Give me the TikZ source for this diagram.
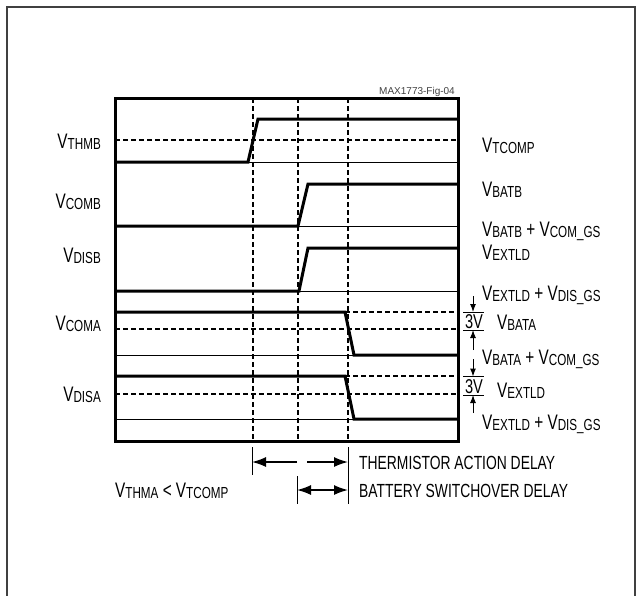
\documentclass[tikz,border=0pt]{standalone}
\usepackage{fontspec}
\setmainfont{Liberation Sans}[FakeStretch=0.73]
\newfontfamily\figfont{Liberation Sans}
\usetikzlibrary{arrows.meta,positioning}
\newcommand{\vsig}[1]{V\raisebox{-1.5pt}{\fontsize{16}{16}\selectfont #1}}

\begin{document}
\begin{tikzpicture}[x=1pt,y=-1pt,
  signal/.style={line width=3pt},
  level/.style={line width=1pt},
  guide/.style={line width=1.2pt,dash pattern=on 5pt off 3pt},
  vlabel/.style={inner sep=0pt,font=\fontsize{21}{21}\selectfont},
  note/.style={inner sep=0pt,font=\fontsize{19}{19}\selectfont},
  span/.style={line width=1.5pt,-{Latex[length=14pt,width=10pt]}},
  gap/.style={line width=1pt,-{Latex[length=8pt,width=6pt]}}]
  \useasboundingbox (0,0) rectangle (642,595);
  \draw[line width=1.5pt,black!75] (7,600) -- (7,7) -- (635,7) -- (635,600);
  \foreach \t in {253,298,348} \draw[guide] (\t,98) -- (\t,441);
  \foreach \y in {140,329,394} \draw[guide] (115,\y) -- (458,\y);
  \draw[guide] (345,312) -- (458,312);
  \draw[guide] (345,376) -- (458,376);
  \draw[level] (248,162) -- (458,162);
  \draw[level] (298,226) -- (458,226);
  \draw[level] (299,291) -- (458,291);
  \draw[level] (115,355) -- (354,355);
  \draw[level] (115,419) -- (354,419);
  \draw[signal] (115,162) -- (248,162) -- (258,119) -- (458,119);
  \draw[signal] (115,226) -- (298,226) -- (308,184) -- (458,184);
  \draw[signal] (115,291) -- (299,291) -- (308,248) -- (458,248);
  \draw[signal] (115,312) -- (345,312) -- (354,355) -- (458,355);
  \draw[signal] (115,376) -- (345,376) -- (354,419) -- (458,419);
  \draw[line width=3pt] (115,98) rectangle (458,441);
  \node[anchor=base east,inner sep=0pt,text=black!75,font=\figfont\fontsize{10}{10}\selectfont] (fig) at (455,94) {MAX1773-Fig-04};
  \node[vlabel,anchor=base east] (thmb) at (101,148) {\vsig{THMB}};
  \node[vlabel,anchor=base east] (comb) at (101,208) {\vsig{COMB}};
  \node[vlabel,anchor=base east] (disb) at (101,262) {\vsig{DISB}};
  \node[vlabel,anchor=base east] (coma) at (101,330) {\vsig{COMA}};
  \node[vlabel,anchor=base east] (disa) at (101,401) {\vsig{DISA}};
  \node[vlabel,anchor=base west] (tcomp) at (482,152) {\vsig{TCOMP}};
  \node[vlabel,anchor=base west] (batb) at (482,196) {\vsig{BATB}};
  \node[vlabel,anchor=base west] (batbgs) at (482,236) {\vsig{BATB} + \vsig{COM\_GS}};
  \node[vlabel,anchor=base west] (extldb) at (482,259) {\vsig{EXTLD}};
  \node[vlabel,anchor=base west] (extldbgs) at (482,300) {\vsig{EXTLD} + \vsig{DIS\_GS}};
  \node[vlabel,anchor=base west] (bata) at (497,329) {\vsig{BATA}};
  \node[vlabel,anchor=base west] (batags) at (482,364) {\vsig{BATA} + \vsig{COM\_GS}};
  \node[vlabel,anchor=base west] (extlda) at (497,397) {\vsig{EXTLD}};
  \node[vlabel,anchor=base west] (extldags) at (482,429) {\vsig{EXTLD} + \vsig{DIS\_GS}};
  \node[vlabel,anchor=base,font=\fontsize{20}{20}\selectfont] (bat3v) at (474,328) {3V};
  \node[vlabel,anchor=base,font=\fontsize{20}{20}\selectfont] (ext3v) at (474,393) {3V};
  \draw[level] (463,312) -- (484,312) (463,330) -- (484,330);
  \draw[level] (463,376.5) -- (484,376.5) (463,395) -- (484,395);
  \coordinate (bt) at (473,296);
  \coordinate (bb) at (473,350);
  \coordinate (et) at (473,359);
  \coordinate (eb) at (473,413);
  \draw[gap] (bt) -- (473,312);
  \draw[gap] (bb) -- (473,330);
  \draw[gap] (et) -- (473,376.5);
  \draw[gap] (eb) -- (473,395);
  \coordinate (ta) at (252,462);
  \coordinate (tb) at (348,462);
  \coordinate (sa) at (297,490);
  \coordinate (sb) at (348,490);
  \draw[level] (252,447) -- (252,475);
  \draw[level] (348,447) -- (348,504);
  \draw[level] (297,476) -- (297,504);
  \draw[span] (297,462) -- (ta);
  \draw[span] (307,462) -- (tb);
  \draw[span,{Latex[length=14pt,width=10pt]}-{Latex[length=14pt,width=10pt]}] (sa) -- (sb);
  \node[note,anchor=base west] (thermistor) at (359,469) {THERMISTOR ACTION DELAY};
  \node[note,anchor=base west] (switchover) at (359,497) {BATTERY SWITCHOVER DELAY};
  \node[vlabel,anchor=base west] (thma) at (115,497) {\vsig{THMA} < \vsig{TCOMP}};
\end{tikzpicture}
\end{document}
